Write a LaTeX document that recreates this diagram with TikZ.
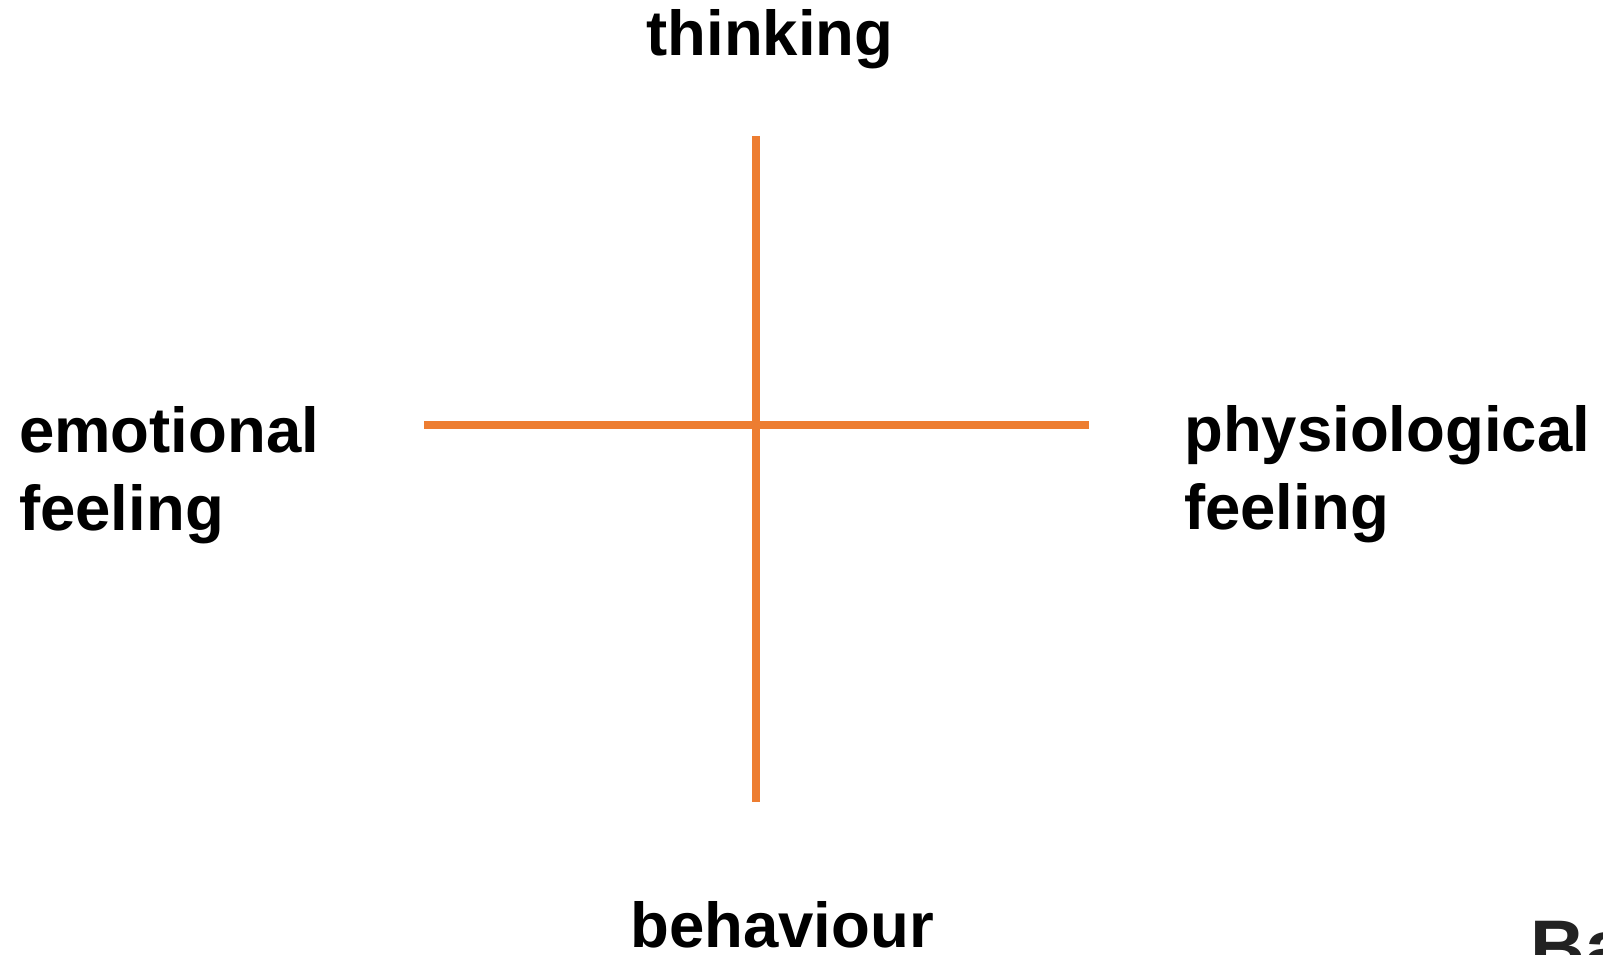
\documentclass[tikz,border=0pt]{standalone}
\usepackage{fontspec}
\setmainfont{Liberation Sans}
\definecolor{axisorange}{HTML}{ED7D31}
\definecolor{darktext}{HTML}{222222}
\begin{document}
\begin{tikzpicture}[x=1pt,y=-1pt,
  lbl/.style={inner sep=0pt,font=\fontsize{63.5}{78}\selectfont\bfseries,text=black},
  axis/.style={draw=axisorange,line width=8pt}]
\useasboundingbox (0,0) rectangle (1603,955);
\clip (0,0) rectangle (1603,955);
\coordinate (top) at (756,136);
\coordinate (bot) at (756,802);
\coordinate (lft) at (424,425);
\coordinate (rgt) at (1089,425);
\draw[axis] (top) -- (bot);
\draw[axis] (lft) -- (rgt);
\node[lbl,anchor=base] (thinking) at (770,56) {thinking};
\node[lbl,anchor=base] (behaviour) at (782,947) {behaviour};
\node[lbl,anchor=base west,align=left] (emotional) at (19,530) {emotional\\feeling};
\node[lbl,anchor=base west,align=left] (physio) at (1184,529) {physiological\\feeling};
\node[inner sep=0pt,anchor=base west,font=\fontsize{76}{80}\selectfont\bfseries,text=darktext] (ba) at (1530,973) {Ba};
\end{tikzpicture}
\end{document}
